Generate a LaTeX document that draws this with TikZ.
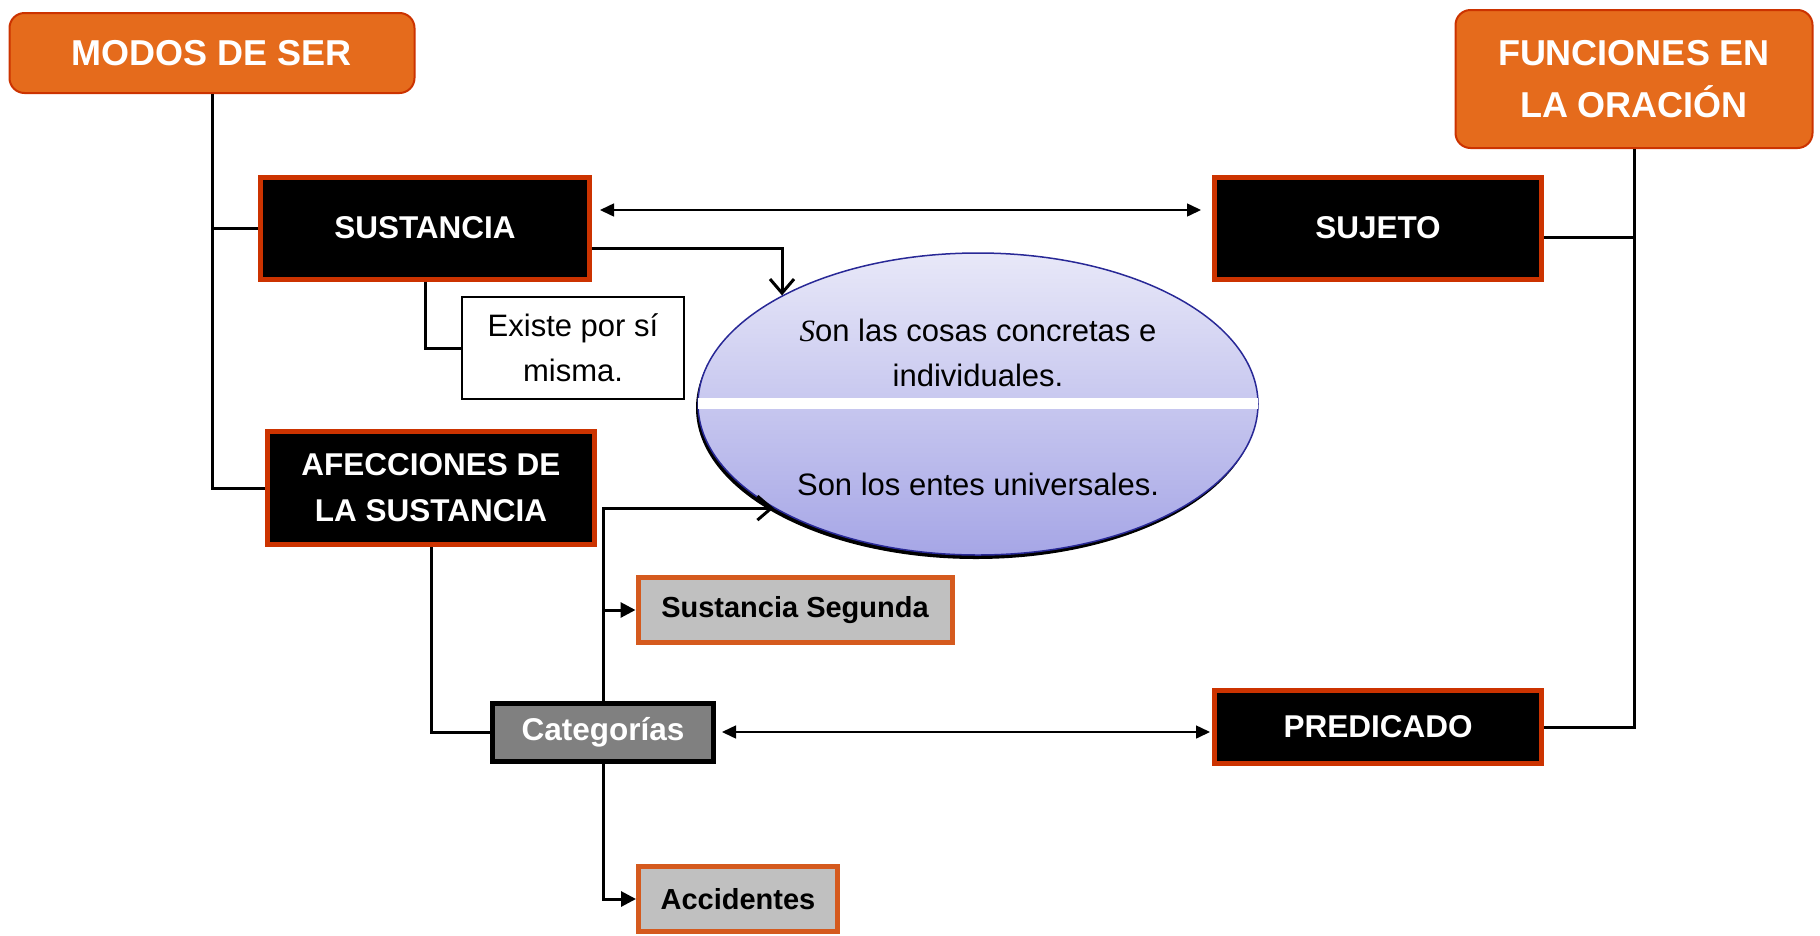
\documentclass[tikz,border=0pt]{standalone}
\usepackage{fontspec}
\setmainfont{Liberation Sans}
\newfontfamily\serifS{Liberation Serif}
\usetikzlibrary{arrows.meta,shapes.geometric}

\definecolor{modoorange}{RGB}{229,107,28}
\definecolor{modored}{RGB}{204,51,0}
\definecolor{segborder}{RGB}{213,90,30}
\definecolor{seggray}{RGB}{192,192,192}
\definecolor{catgray}{RGB}{128,128,128}
\definecolor{elltop}{RGB}{232,232,248}
\definecolor{ellbottom}{RGB}{166,166,230}
\definecolor{ellborder}{RGB}{40,40,150}

\newcommand{\headfont}{\fontsize{36}{52}\selectfont\bfseries}
\newcommand{\boxfont}{\fontsize{31.5}{46}\selectfont\bfseries}
\newcommand{\subfont}{\fontsize{29}{35}\selectfont\bfseries}
\newcommand{\ovalfont}{\fontsize{31}{45}\selectfont}

\tikzset{
    headbox/.style={rectangle, rounded corners=15pt, draw=modored, line width=2pt, fill=modoorange, text=white, font=\headfont, align=center, inner sep=0pt},
    mainbox/.style={rectangle, draw=modored, line width=5pt, fill=black, text=white, font=\boxfont, align=center, inner sep=0pt},
    subbox/.style={rectangle, draw=segborder, line width=5pt, fill=seggray, text=black, font=\subfont, inner sep=0pt},
    link/.style={line width=3pt},
    twoway/.style={line width=1.5pt, {Triangle[length=14pt,width=13pt]}-{Triangle[length=14pt,width=13pt]}},
}

\begin{document}
\begin{tikzpicture}[x=1pt,y=-1pt]
    \useasboundingbox (0,0) rectangle (1820,935);

    \node[headbox, minimum width=405pt, minimum height=80pt] (modos) at (212,53) {MODOS DE SER};
    \node[headbox, minimum width=357pt, minimum height=138pt] (funciones) at (1634,79) {FUNCIONES EN\\LA ORACIÓN};

    \node[mainbox, minimum width=329pt, minimum height=102pt] (sustancia) at (425,228) {SUSTANCIA};
    \node[mainbox, minimum width=327pt, minimum height=102pt] (sujeto) at (1378,228) {SUJETO};
    \node[mainbox, minimum width=327pt, minimum height=113pt] (afecciones) at (431,488) {AFECCIONES DE\\LA SUSTANCIA};
    \node[mainbox, minimum width=327pt, minimum height=73pt] (predicado) at (1378,727) {PREDICADO};

    \node[rectangle, draw, line width=1.5pt, fill=white, font=\ovalfont, align=center, inner sep=0pt, minimum width=222pt, minimum height=102pt] (existe) at (573,348) {Existe por sí\\misma.};

    \node[ellipse, fill=black, minimum width=560pt, minimum height=302pt] (sombra) at (976,408) {};
    \node[ellipse, draw=ellborder, line width=1.5pt, top color=elltop, bottom color=ellbottom, minimum width=560pt, minimum height=302pt] (ovalo) at (978,404) {};
    \begin{scope}
        \clip (978,404) ellipse [x radius=280, y radius=151];
        \fill[white] (690,398) rectangle (1270,409);
    \end{scope}
    \node[font=\ovalfont, align=center] (cosas) at (978,353) {{\serifS\itshape S}on las cosas concretas e\\individuales.};
    \node[font=\ovalfont] (entes) at (978,484) {Son los entes universales.};

    \node[subbox, minimum width=314pt, minimum height=65pt] (segunda) at (795,610) {Sustancia Segunda};
    \node[rectangle, draw=black, line width=5pt, fill=catgray, text=white, font=\boxfont, inner sep=0pt, minimum width=221pt, minimum height=58pt] (categorias) at (603,732) {Categorías};
    \node[subbox, minimum width=199pt, minimum height=65pt] (accidentes) at (738,899) {Accidentes};

    \draw[link] (modos.south) |- (afecciones.west);
    \draw[link] (modos.south |- sustancia.west) -- (sustancia.west);
    \draw[link] (funciones.south) |- (predicado.east);
    \draw[link] ([yshift=-9pt]sujeto.east) -- ([yshift=-9pt]sujeto.east -| funciones.south);
    \draw[link] (sustancia.south) |- (existe.west);
    \draw[link] (afecciones.south) |- (categorias.west);

    \draw[link, -{Straight Barb[length=14pt,width=24pt]}] ([yshift=-20pt]sustancia.east) -| (ovalo.151);
    \draw[link, -{Straight Barb[length=14pt,width=24pt]}] (categorias.north) |- (ovalo.207);
    \draw[link, -{Triangle[length=15pt,width=15pt]}] (categorias.north |- segunda.west) -- (segunda.west);
    \draw[link, -{Triangle[length=15pt,width=15pt]}] (categorias.south) |- (accidentes.west);

    \draw[twoway, shorten <=8pt, shorten >=11pt] ([yshift=18pt]sustancia.east) -- ([yshift=18pt]sujeto.west);
    \draw[twoway, shorten <=6pt, shorten >=2pt] (categorias.east) -- (categorias.east -| predicado.west);
\end{tikzpicture}
\end{document}
